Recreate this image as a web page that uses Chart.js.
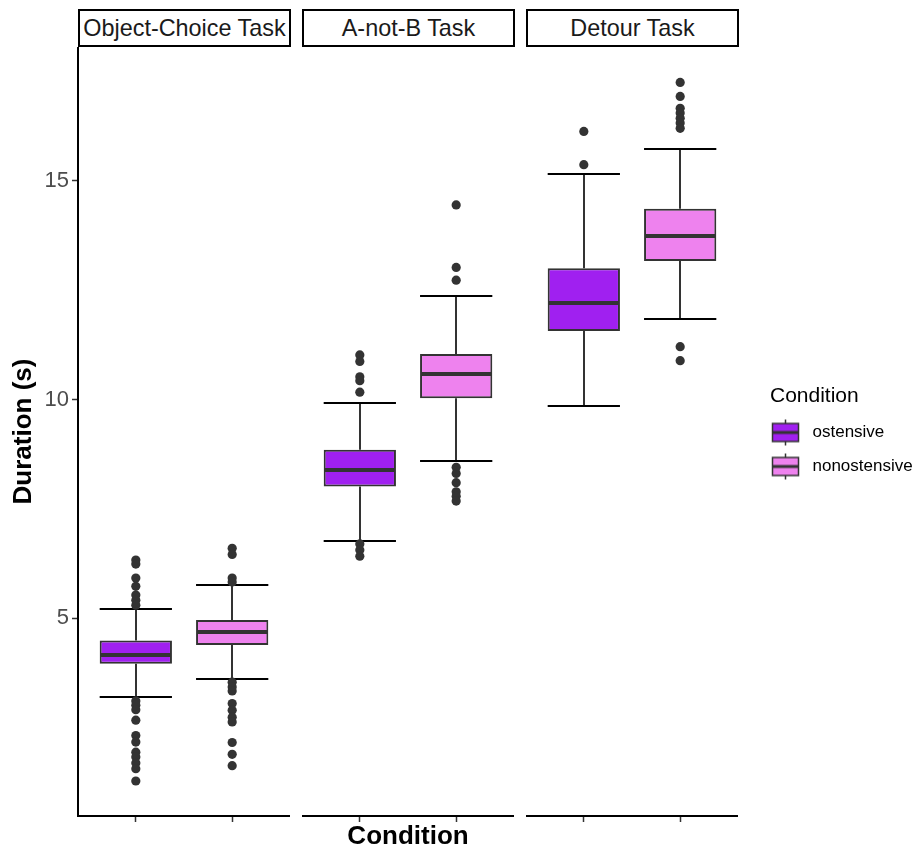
<!DOCTYPE html>
<html lang="en">
<head>
<meta charset="UTF-8">
<title>Duration by task and condition</title>
<script src="https://cdn.jsdelivr.net/npm/chart.js@4.4.0/dist/chart.umd.min.js"></script>
<style>
  * { box-sizing: border-box; margin: 0; padding: 0; }
  body { background: #fff; font-family: 'Liberation Sans', Arial, sans-serif; }
  #wrap { position: relative; width: 915px; height: 855px; overflow: hidden; }
  .strip { position: absolute; top: 9px; height: 38px; border: 2px solid #000; background: #fff;
           display: flex; align-items: center; justify-content: center; font-size: 23.4px; color: #1a1a1a; }
  canvas { position: absolute; top: 47px; }
</style>
</head>
<body>
<div id="wrap"></div>

<script>
// facets and groups
const tasks = ['Object-Choice Task', 'A-not-B Task', 'Detour Task'];
const conditions = ['ostensive', 'nonostensive'];
const xPos = [1, 2];            // position of each condition inside a facet
const xMin = 0.4, xMax = 2.6;
const yMin = 0.48, yMax = 18.06;
const yTicks = [5, 10, 15];

// box statistics, one row per task: [ostensive, nonostensive]
const whiskerLow  = [[3.21, 3.61], [6.77, 8.60], [9.85, 11.85]];
const q1          = [[3.96, 4.39], [8.01, 10.03], [11.57, 13.17]];
const medians     = [[4.16, 4.69], [8.40, 10.58], [12.21, 13.74]];
const q3          = [[4.49, 4.96], [8.85, 11.04], [13.00, 14.36]];
const whiskerHigh = [[5.21, 5.77], [9.93, 12.37], [15.16, 15.72]];

const outliers = [
  [
    [6.33, 6.24, 5.92, 5.73, 5.53, 5.41, 5.30, 3.11, 3.01, 2.91, 2.67, 2.32, 2.17, 1.94, 1.83, 1.69, 1.56, 1.28],
    [6.60, 6.46, 5.92, 5.83, 3.54, 3.43, 3.34, 3.05, 2.90, 2.74, 2.63, 2.16, 1.89, 1.63]
  ],
  [
    [11.02, 10.87, 10.52, 10.43, 10.17, 6.70, 6.56, 6.42],
    [14.45, 13.02, 12.73, 8.45, 8.31, 8.10, 7.89, 7.79, 7.68]
  ],
  [
    [16.13, 15.37],
    [17.25, 16.93, 16.66, 16.55, 16.43, 16.32, 16.20, 11.21, 10.89]
  ]
];

const fills = ['#A020F0', '#EE82EE'];
const panelLeft = [78, 302, 526];
const panelWidth = 212;
const legendLeft = 770;

Chart.defaults.font.family = "'Liberation Sans', Arial, sans-serif";

// whiskers with end caps under the boxes, medians on top
const boxWhiskers = {
  id: 'boxWhiskers',
  beforeDatasetsDraw(chart, args, opts) {
    const { ctx } = chart;
    const y = chart.scales.y;
    const t = opts.task;
    conditions.forEach((c, i) => {
      const bar = chart.getDatasetMeta(i).data[0];
      const cx = Math.round(bar.x);
      const half = bar.width / 2;
      const lo = Math.round(y.getPixelForValue(whiskerLow[t][i]));
      const hi = Math.round(y.getPixelForValue(whiskerHigh[t][i]));
      ctx.save();
      ctx.lineWidth = 2;
      ctx.strokeStyle = '#333333';
      ctx.beginPath();
      ctx.moveTo(cx, lo);
      ctx.lineTo(cx, y.getPixelForValue(q1[t][i]));
      ctx.moveTo(cx, y.getPixelForValue(q3[t][i]));
      ctx.lineTo(cx, hi);
      ctx.stroke();
      ctx.strokeStyle = '#000000';
      ctx.beginPath();
      ctx.moveTo(bar.x - half, lo);
      ctx.lineTo(bar.x + half, lo);
      ctx.moveTo(bar.x - half, hi);
      ctx.lineTo(bar.x + half, hi);
      ctx.stroke();
      ctx.restore();
    });
  },
  afterDatasetsDraw(chart, args, opts) {
    const { ctx } = chart;
    const y = chart.scales.y;
    const t = opts.task;
    conditions.forEach((c, i) => {
      const bar = chart.getDatasetMeta(i).data[0];
      const m = Math.round(y.getPixelForValue(medians[t][i]));
      ctx.save();
      ctx.lineWidth = 4;
      ctx.strokeStyle = '#333333';
      ctx.beginPath();
      ctx.moveTo(bar.x - bar.width / 2 + 1, m);
      ctx.lineTo(bar.x + bar.width / 2 - 1, m);
      ctx.stroke();
      ctx.restore();
    });
  }
};

// legend keys: small box-and-whisker glyphs (key sits left of the glyph centre)
function makeKey(fill) {
  const k = document.createElement('canvas');
  k.width = 49; k.height = 32;
  const g = k.getContext('2d');
  const cx = 14.5;
  g.strokeStyle = '#333333';
  g.lineWidth = 1.5;
  g.beginPath(); g.moveTo(cx, 3); g.lineTo(cx, 29); g.stroke();
  g.fillStyle = fill;
  g.fillRect(cx - 13, 7, 26, 18);
  g.strokeRect(cx - 13, 7, 26, 18);
  g.lineWidth = 3;
  g.beginPath(); g.moveTo(cx - 13, 16); g.lineTo(cx + 13, 16); g.stroke();
  return k;
}
const legendKeys = fills.map(makeKey);

const wrap = document.getElementById('wrap');

tasks.forEach((task, t) => {
  const strip = document.createElement('div');
  strip.className = 'strip';
  strip.style.left = panelLeft[t] + 'px';
  strip.style.width = (panelWidth + 1) + 'px';
  strip.textContent = task;
  wrap.appendChild(strip);
});

tasks.forEach((task, t) => {
  const first = t === 0;
  const middle = t === Math.floor(tasks.length / 2);

  const canvas = document.createElement('canvas');
  canvas.width = first ? panelLeft[0] + panelWidth : panelWidth;
  canvas.height = 808;
  canvas.style.left = (first ? 0 : panelLeft[t]) + 'px';
  wrap.appendChild(canvas);

  const datasets = [];
  conditions.forEach((c, i) => {
    datasets.push({
      type: 'bar',
      label: c,
      data: [{ x: xPos[i], y: [q1[t][i], q3[t][i]] }],
      backgroundColor: fills[i],
      borderColor: '#333333',
      borderWidth: 2,
      borderSkipped: false,
      grouped: false,
      barPercentage: 0.75,
      categoryPercentage: 1
    });
  });
  conditions.forEach((c, i) => {
    datasets.push({
      type: 'scatter',
      label: c + ' outliers',
      data: outliers[t][i].map(v => ({ x: xPos[i], y: v })),
      pointRadius: 4.6,
      pointHoverRadius: 4.6,
      backgroundColor: '#333333',
      borderWidth: 0
    });
  });

  new Chart(canvas, {
    type: 'bar',
    data: { datasets },
    plugins: [boxWhiskers],
    options: {
      responsive: false,
      animation: false,
      devicePixelRatio: 1,
      layout: { autoPadding: false, padding: 0 },
      scales: {
        x: {
          type: 'linear',
          min: xMin,
          max: xMax,
          offset: false,
          afterBuildTicks: s => { s.ticks = xPos.map(v => ({ value: v })); },
          afterFit: s => { s.height = 39; s.paddingLeft = 0; s.paddingRight = 0; },
          grid: { display: true, offset: false, drawOnChartArea: false, tickLength: 6, tickColor: '#333333', tickWidth: 1.5 },
          border: { display: true, color: '#000000', width: 2 },
          ticks: { display: false },
          title: {
            display: middle,
            text: 'Condition',
            color: '#000000',
            font: { size: 26, weight: 'bold' },
            padding: { top: 0, bottom: 3 }
          }
        },
        y: {
          display: first,
          min: yMin,
          max: yMax,
          beginAtZero: false,
          afterBuildTicks: s => { s.ticks = yTicks.map(v => ({ value: v })); },
          afterFit: s => {
            if (first) s.width = panelLeft[0];
            s.paddingTop = 0;
            s.paddingBottom = 0;
          },
          grid: { display: true, drawOnChartArea: false, tickLength: 6, tickColor: '#333333', tickWidth: 1.5 },
          border: { display: true, color: '#000000', width: 2 },
          ticks: { color: '#4D4D4D', font: { size: 22 }, padding: 3 },
          title: {
            display: true,
            text: 'Duration (s)',
            color: '#000000',
            font: { size: 26, weight: 'bold' },
            padding: { top: 8, bottom: 0 }
          }
        }
      },
      plugins: {
        boxWhiskers: { task: t },
        tooltip: { enabled: false },
        legend: { display: false }
      }
    }
  });
});

// shared legend to the right of the facets
const legendCanvas = document.createElement('canvas');
legendCanvas.width = 400;
legendCanvas.height = 808;
legendCanvas.style.left = legendLeft + 'px';
wrap.appendChild(legendCanvas);

new Chart(legendCanvas, {
  type: 'bar',
  data: { datasets: conditions.map((c, i) => ({ label: c, data: [], backgroundColor: fills[i] })) },
  options: {
    responsive: false,
    animation: false,
    devicePixelRatio: 1,
    layout: { autoPadding: false, padding: 0 },
    scales: { x: { display: false }, y: { display: false } },
    plugins: {
      tooltip: { enabled: false },
      legend: {
        position: 'left',
        align: 'start',
        title: {
          display: true,
          text: 'Condition',
          position: 'start',
          color: '#000000',
          font: { size: 21, lineHeight: 1 },
          padding: { top: 339, bottom: 0 }
        },
        labels: {
          usePointStyle: true,
          pointStyleWidth: 17,
          padding: 17,
          color: '#000000',
          font: { size: 17 },
          generateLabels: () => conditions.map((c, i) => ({
            text: c,
            pointStyle: legendKeys[i],
            fillStyle: fills[i],
            strokeStyle: '#333333',
            lineWidth: 0,
            hidden: false,
            datasetIndex: i
          }))
        }
      }
    }
  }
});
</script>
</body>
</html>
